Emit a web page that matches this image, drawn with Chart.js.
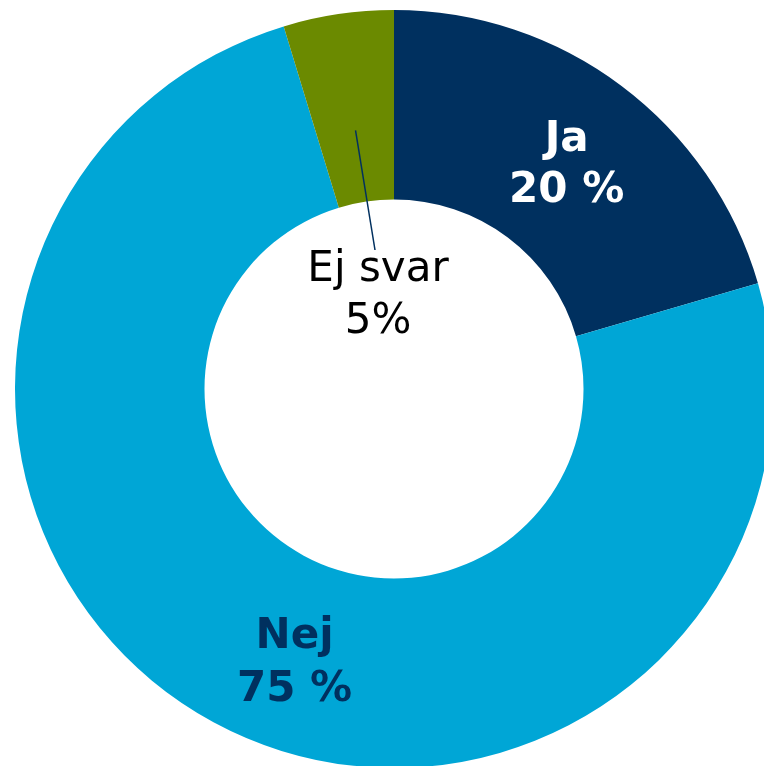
<!DOCTYPE html>
<html>
<head>
<meta charset="utf-8">
<script src="https://cdn.jsdelivr.net/npm/chart.js@4/dist/chart.umd.min.js"></script>
<style>
  html, body { margin: 0; padding: 0; background: #fff; overflow: hidden; }
  #wrap { width: 764px; height: 766px; overflow: hidden; }
</style>
</head>
<body>
<div id="wrap"><canvas id="c" width="788" height="778"></canvas></div>
<script>
const categories = ['Ja', 'Nej', 'Ej svar'];
const values = [20.5, 74.8, 4.7];
const valueLabels = ['20 %', '75 %', '5%'];
const colors = ['#00305f', '#00a6d6', '#6b8a00'];

// Beschriftungen direkt auf die Segmente zeichnen
const sliceLabels = {
  id: 'sliceLabels',
  afterDatasetsDraw(chart) {
    const ctx = chart.ctx;
    const meta = chart.getDatasetMeta(0);
    ctx.save();
    ctx.textAlign = 'center';
    ctx.textBaseline = 'middle';

    // Ja
    let p = meta.data[0].tooltipPosition();
    ctx.fillStyle = '#ffffff';
    ctx.font = 'bold 42px "DejaVu Sans"';
    ctx.fillText(categories[0], p.x + 2, p.y - 22);
    ctx.fillText(valueLabels[0], p.x + 2, p.y + 29);

    // Nej
    p = meta.data[1].tooltipPosition();
    ctx.fillStyle = '#00305f';
    ctx.fillText(categories[1], p.x + 36, p.y - 2);
    ctx.fillText(valueLabels[1], p.x + 36, p.y + 51);

    // Ej svar - mit Linie in die Mitte
    const a = meta.data[2];
    const mid = (a.startAngle + a.endAngle) / 2;
    const r0 = a.innerRadius + (a.outerRadius - a.innerRadius) * 0.38;
    const x0 = a.x + Math.cos(mid) * r0;
    const y0 = a.y + Math.sin(mid) * r0;
    ctx.strokeStyle = '#00305f';
    ctx.lineWidth = 1.5;
    ctx.beginPath();
    ctx.moveTo(x0, y0);
    ctx.lineTo(a.x - 19, a.y - 139);
    ctx.stroke();
    ctx.fillStyle = '#000000';
    ctx.font = '42px "DejaVu Sans"';
    ctx.fillText(categories[2], a.x - 16, a.y - 119);
    ctx.fillText(valueLabels[2], a.x - 16, a.y - 67);
    ctx.restore();
  }
};

const ctx = document.getElementById('c');
const chart = new Chart(ctx, {
  type: 'doughnut',
  data: {
    labels: categories,
    datasets: [{
      data: values,
      backgroundColor: colors,
      borderWidth: 0
    }]
  },
  options: {
    responsive: false,
    animation: false,
    cutout: '50%',
    layout: { padding: 10 },
    plugins: {
      legend: { display: false },
      tooltip: { enabled: false }
    }
  },
  plugins: [sliceLabels]
});
</script>
</body>
</html>
